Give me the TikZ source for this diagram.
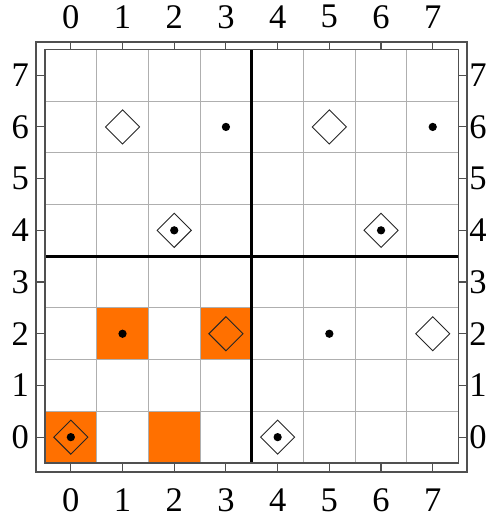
\documentclass[tikz,border=0pt]{standalone}
\usepackage{fontspec}
\setmainfont{Liberation Serif}
\definecolor{cellorange}{RGB}{255,112,0}
\definecolor{gridgray}{RGB}{175,175,175}
\definecolor{framegray}{RGB}{80,80,80}
\tikzset{
  gridline/.style={draw=gridgray, line width=0.6pt},
  frameline/.style={draw=framegray, line width=0.8pt},
  tickline/.style={draw=framegray, line width=0.6pt},
  sepline/.style={draw=black, line width=1.6pt},
  filled/.style={fill=cellorange},
  dotmark/.style={circle, fill=black, inner sep=0pt, minimum size=0.16cm},
  diamark/.style={draw=black!85, line width=0.5pt},
  ticklabel/.style={font=\fontsize{19}{19}\selectfont, inner sep=0pt}
}
\begin{document}
\begin{tikzpicture}
\useasboundingbox (-1.37,-1.622) rectangle (8.03,8.455);
% orange cells
\foreach \x/\y in {0/0,1/2,2/0,3/2}{
  \fill[cellorange] (\x-0.5,\y-0.5) rectangle (\x+0.5,\y+0.5);
}
% grid
\foreach \i in {-0.5,0.5,...,7.5}{
  \draw[gridline] (\i,-0.5) -- (\i,7.5);
  \draw[gridline] (-0.5,\i) -- (7.5,\i);
}
% separators
\draw[sepline] (3.5,-0.5) -- (3.5,7.5);
\draw[sepline] (-0.5,3.5) -- (7.5,3.5);
% frame
\draw[frameline] (-0.674,-0.674) rectangle (7.66,7.64);
\draw[frameline] (-0.5,-0.5) rectangle (7.5,7.5);
% ticks and labels
\foreach \i in {0,...,7}{
  \draw[tickline] (\i,7.64) -- (\i,7.5);
  \draw[tickline] (\i,-0.674) -- (\i,-0.5);
  \draw[tickline] (-0.674,\i) -- (-0.5,\i);
  \draw[tickline] (7.66,\i) -- (7.5,\i);
  \node[ticklabel] (t\i) at (\i,8.13) {\i};
  \node[ticklabel] (b\i) at (\i,-1.216) {\i};
  \node[ticklabel] (l\i) at (-0.98,\i) {\i};
  \node[ticklabel, anchor=west] (r\i) at (7.70,\i) {\i};
}
% diamonds
\foreach \x/\y in {1/6,5/6,2/4,6/4,3/2,7/2,0/0,4/0}{
  \draw[diamark] (\x-0.33,\y) -- (\x,\y+0.33) -- (\x+0.33,\y) -- (\x,\y-0.33) -- cycle;
}
% dots
\foreach \x/\y [count=\k] in {3/6,7/6,2/4,6/4,1/2,5/2,0/0,4/0}{
  \node[dotmark] (d\k) at (\x,\y) {};
}
\end{tikzpicture}
\end{document}
